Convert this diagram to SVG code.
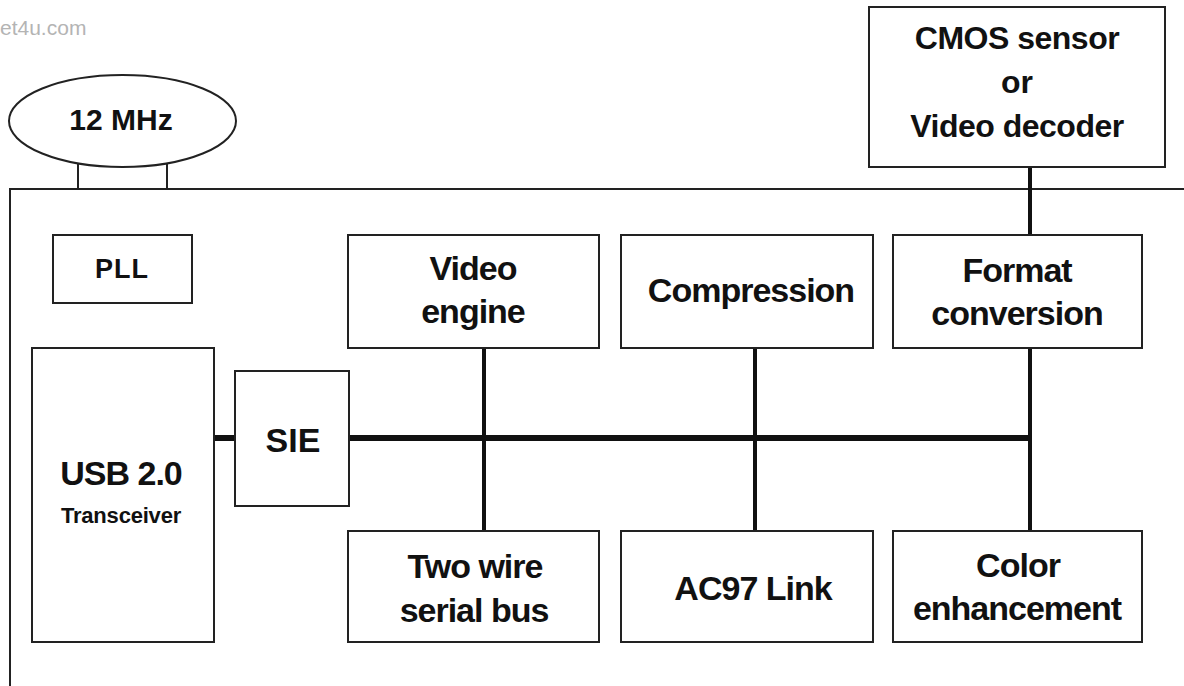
<svg xmlns="http://www.w3.org/2000/svg" width="1184" height="686" viewBox="0 0 1184 686">
<style>
.box{fill:#fff;stroke:#222;stroke-width:2}
.t{font-family:"Liberation Sans",Arial,sans-serif;font-weight:bold;fill:#111;text-anchor:middle}
.lbl{font-size:34px;letter-spacing:-1px}
.frame{fill:none;stroke:#222;stroke-width:2}
.bus{stroke:#111;stroke-width:6;fill:none}
.wire{stroke:#111;stroke-width:4;fill:none}
</style>
<rect width="1184" height="686" fill="#fff"/>
<text x="0" y="35" font-family="Liberation Sans, Arial, sans-serif" font-size="21" fill="#b4b4b4">et4u.com</text>
<g id="chip">
<path class="frame" d="M10,686 V189 H1184"/>
</g>
<g id="crystal">
<line class="frame" x1="78" y1="163" x2="78" y2="189"/>
<line class="frame" x1="167" y1="163" x2="167" y2="189"/>
<ellipse class="box" cx="122.5" cy="121" rx="113.5" ry="46"/>
<text class="t" x="121" y="130" font-size="30">12 MHz</text>
</g>
<g id="connectors">
<line class="wire" x1="1030" y1="167" x2="1030" y2="236"/>
<line class="bus" x1="214" y1="438" x2="235" y2="438"/>
<line class="bus" x1="349" y1="438" x2="1032" y2="438"/>
<line class="wire" x1="484" y1="348" x2="484" y2="531"/>
<line class="wire" x1="755" y1="348" x2="755" y2="531"/>
<line class="wire" x1="1030" y1="348" x2="1030" y2="531"/>
</g>
<g id="cmos">
<rect class="box" x="869" y="7" width="296" height="160"/>
<text class="t" x="1017" y="49" font-size="32" letter-spacing="-0.5">CMOS sensor</text>
<text class="t" x="1017" y="93" font-size="32">or</text>
<text class="t" x="1017" y="137" font-size="32" letter-spacing="-0.5">Video decoder</text>
</g>
<g id="pll">
<rect class="box" x="53" y="235" width="139" height="68"/>
<text class="t" x="122" y="278" font-size="27" letter-spacing="1">PLL</text>
</g>
<g id="usb">
<rect class="box" x="32" y="348" width="182" height="294"/>
<text class="t" x="121" y="485" font-size="34" letter-spacing="-1">USB 2.0</text>
<text class="t" x="121" y="523" font-size="22" letter-spacing="-0.2">Transceiver</text>
</g>
<g id="sie">
<rect class="box" x="235" y="371" width="114" height="135"/>
<text class="t" x="293" y="452" font-size="34">SIE</text>
</g>
<g id="video-engine">
<rect class="box" x="348" y="235" width="251" height="113"/>
<text class="t lbl" x="473" y="280">Video</text>
<text class="t lbl" x="473" y="323">engine</text>
</g>
<g id="compression">
<rect class="box" x="621" y="235" width="252" height="113"/>
<text class="t lbl" x="751" y="302">Compression</text>
</g>
<g id="format-conversion">
<rect class="box" x="893" y="235" width="249" height="113"/>
<text class="t lbl" x="1017" y="282">Format</text>
<text class="t lbl" x="1017" y="325">conversion</text>
</g>
<g id="two-wire">
<rect class="box" x="348" y="531" width="251" height="111"/>
<text class="t lbl" x="475" y="578">Two wire</text>
<text class="t lbl" x="474" y="622">serial bus</text>
</g>
<g id="ac97">
<rect class="box" x="621" y="531" width="252" height="111"/>
<text class="t lbl" x="753" y="600">AC97 Link</text>
</g>
<g id="color-enhancement">
<rect class="box" x="893" y="531" width="249" height="111"/>
<text class="t lbl" x="1018" y="577">Color</text>
<text class="t lbl" x="1017" y="620">enhancement</text>
</g>
</svg>
